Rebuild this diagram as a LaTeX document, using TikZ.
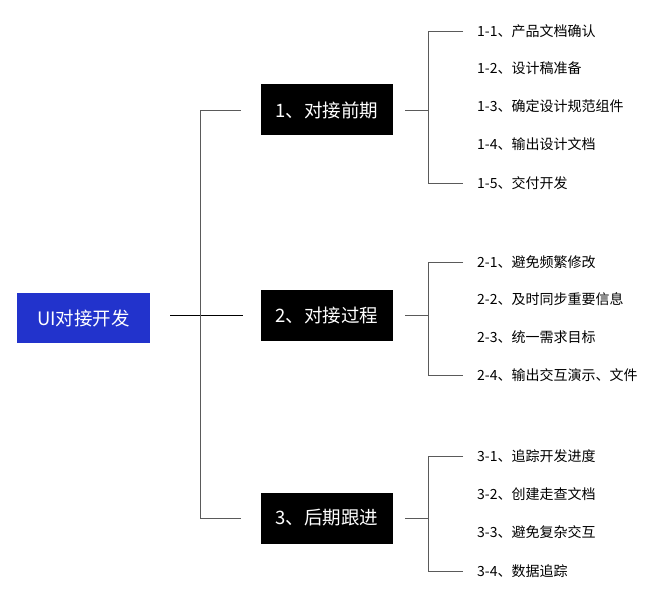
\documentclass[tikz,border=0pt]{standalone}
\usepackage{fontspec}
\setmainfont{Noto Sans CJK SC}
\newfontfamily\cjk{Noto Sans CJK SC}
\definecolor{uiblue}{HTML}{2233CC}
\definecolor{linegray}{HTML}{5A5A5A}

\begin{document}
\begin{tikzpicture}[x=1pt,y=-1pt,
    rootbox/.style={fill=uiblue,text=white,minimum width=133pt,minimum height=50pt,inner sep=0pt,font=\cjk\fontsize{18.5}{20}\selectfont},
    stagebox/.style={fill=black,text=white,minimum width=132pt,minimum height=51pt,inner sep=0pt,font=\cjk\fontsize{18.5}{20}\selectfont},
    item/.style={anchor=west,inner sep=0pt,font=\cjk\fontsize{14}{15}\selectfont},
    link/.style={draw=linegray,line width=0.9pt}]
            \useasboundingbox (0,0) rectangle (659,599);
            \fill[white] (0,0) rectangle (659,599);
            \node[rootbox] (root) at (83.5,318) {UI对接开发};
            \node[stagebox] (s1) at (327,110) {1、对接前期};
            \node[stagebox] (s2) at (327,315) {2、对接过程};
            \node[stagebox] (s3) at (327,518) {3、后期跟进};
            \node[item] (t11) at (477,31) {1-1、产品文档确认};
            \node[item] (t12) at (477,68) {1-2、设计稿准备};
            \node[item] (t13) at (477,106) {1-3、确定设计规范组件};
            \node[item] (t14) at (477,144) {1-4、输出设计文档};
            \node[item] (t15) at (477,183) {1-5、交付开发};
            \node[item] (t21) at (477,262) {2-1、避免频繁修改};
            \node[item] (t22) at (477,299) {2-2、及时同步重要信息};
            \node[item] (t23) at (477,337) {2-3、统一需求目标};
            \node[item] (t24) at (477,375) {2-4、输出交互演示、文件};
            \node[item] (t31) at (477,456) {3-1、追踪开发进度};
            \node[item] (t32) at (477,494) {3-2、创建走查文档};
            \node[item] (t33) at (477,532) {3-3、避免复杂交互};
            \node[item] (t34) at (477,571) {3-4、数据追踪};
            \draw[line width=0.9pt] ([xshift=-18pt]s2.west) -- ++(-73,0);
            \draw[link] ([xshift=-20pt]s1.west) -- ++(-40,0) |- ([xshift=-20pt]s3.west);
            \draw[link] ([xshift=12pt]s1.east) -- ++(23,0);
            \draw[link] ([xshift=12pt]s2.east) -- ++(23,0);
            \draw[link] ([xshift=12pt]s3.east) -- ++(23,0);
            \draw[link] ([xshift=-14pt]t11.west) -- ++(-35,0) |- ([xshift=-14pt]t15.west);
            \draw[link] ([xshift=-14pt]t21.west) -- ++(-35,0) |- ([xshift=-14pt]t24.west);
            \draw[link] ([xshift=-14pt]t31.west) -- ++(-35,0) |- ([xshift=-14pt]t34.west);
        \end{tikzpicture}
\end{document}
